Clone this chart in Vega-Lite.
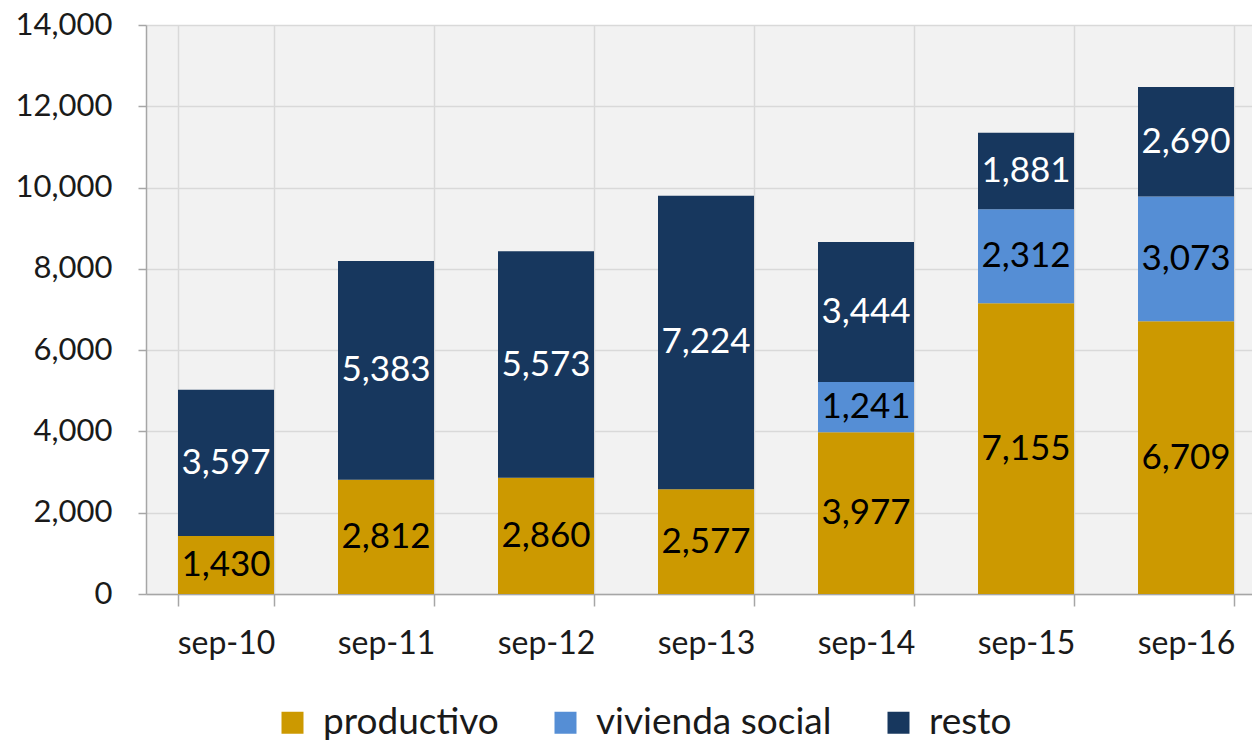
{
  "$schema": "https://vega.github.io/schema/vega-lite/v6.json",
  "width": 1120,
  "height": 569,
  "autosize": {"type": "none"},
  "padding": {"left": 146, "top": 25, "right": 0, "bottom": 148},
  "background": "white",
  "config": {
    "view": {"fill": "#f2f2f2", "stroke": null},
    "font": "Lato",
    "axis": {"labelFont": "Lato", "labelColor": "#1a1a1a", "gridColor": "#d9d9d9", "gridWidth": 1.5, "domainColor": "#a6a6a6", "domainWidth": 1.5, "tickColor": "#a6a6a6", "tickWidth": 1.5}
  },
  "data": {
    "values": [
      {"periodo": "sep-10", "serie": "productivo", "orden": 1, "valor": 1430},
      {"periodo": "sep-10", "serie": "resto", "orden": 3, "valor": 3597},
      {"periodo": "sep-11", "serie": "productivo", "orden": 1, "valor": 2812},
      {"periodo": "sep-11", "serie": "resto", "orden": 3, "valor": 5383},
      {"periodo": "sep-12", "serie": "productivo", "orden": 1, "valor": 2860},
      {"periodo": "sep-12", "serie": "resto", "orden": 3, "valor": 5573},
      {"periodo": "sep-13", "serie": "productivo", "orden": 1, "valor": 2577},
      {"periodo": "sep-13", "serie": "resto", "orden": 3, "valor": 7224},
      {"periodo": "sep-14", "serie": "productivo", "orden": 1, "valor": 3977},
      {"periodo": "sep-14", "serie": "vivienda social", "orden": 2, "valor": 1241},
      {"periodo": "sep-14", "serie": "resto", "orden": 3, "valor": 3444},
      {"periodo": "sep-15", "serie": "productivo", "orden": 1, "valor": 7155},
      {"periodo": "sep-15", "serie": "vivienda social", "orden": 2, "valor": 2312},
      {"periodo": "sep-15", "serie": "resto", "orden": 3, "valor": 1881},
      {"periodo": "sep-16", "serie": "productivo", "orden": 1, "valor": 6709},
      {"periodo": "sep-16", "serie": "vivienda social", "orden": 2, "valor": 3073},
      {"periodo": "sep-16", "serie": "resto", "orden": 3, "valor": 2690}
    ]
  },
  "transform": [
    {"stack": "valor", "groupby": ["periodo"], "sort": [{"field": "orden", "order": "ascending"}], "as": ["v0", "v1"]},
    {"calculate": "(datum.v0 + datum.v1) / 2", "as": "vmid"}
  ],
  "encoding": {
    "x": {
      "field": "periodo", "type": "ordinal", "title": null,
      "scale": {"paddingInner": 0.4, "paddingOuter": 0.2},
      "axis": {"labelAngle": 0, "labelFontSize": 32, "labelPadding": 22, "tickBand": "extent", "tickSize": 12, "grid": true}
    }
  },
  "layer": [
    {
      "mark": {"type": "bar"},
      "encoding": {
        "y": {"field": "v0", "type": "quantitative", "title": null,
          "scale": {"domain": [0, 14000]},
          "axis": {"values": [0, 2000, 4000, 6000, 8000, 10000, 12000, 14000], "format": ",.0f", "labelFontSize": 31, "labelPadding": 26, "tickSize": 8, "grid": true}},
        "y2": {"field": "v1"},
        "color": {
          "field": "serie", "type": "nominal", "title": null,
          "scale": {"domain": ["productivo", "vivienda social", "resto"], "range": ["#cc9900", "#558ed5", "#17375e"]},
          "legend": {"orient": "none", "legendX": 128, "legendY": 679, "direction": "horizontal", "symbolType": "square", "symbolSize": 484, "symbolStrokeWidth": 0, "labelFontSize": 37, "labelColor": "#1a1a1a", "labelOffset": 12, "columnPadding": 48, "labelLimit": 400}
        }
      }
    },
    {
      "mark": {"type": "text", "fontSize": 35, "baseline": "middle", "align": "center"},
      "encoding": {
        "y": {"field": "vmid", "type": "quantitative"},
        "text": {"field": "valor", "type": "quantitative", "format": ","},
        "fill": {"condition": {"test": "datum.serie === 'resto'", "value": "white"}, "value": "black"}
      }
    }
  ]
}
